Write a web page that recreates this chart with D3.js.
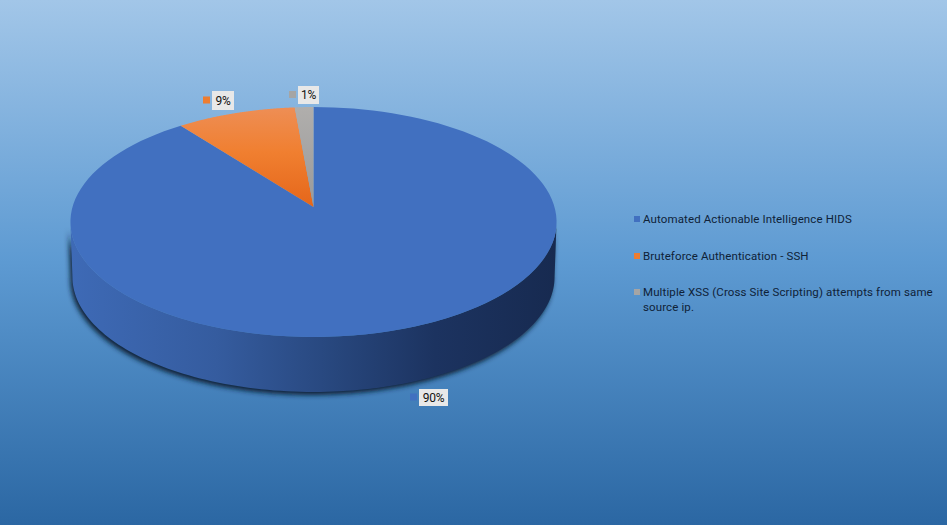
<!DOCTYPE html>
<html>
<head>
<meta charset="utf-8">
<script src="https://cdn.jsdelivr.net/npm/d3@7"></script>
<style>
  html, body { margin: 0; padding: 0; background: #2a69a5; }
  svg { display: block; }
  text { font-family: "Roboto", sans-serif; }
</style>
</head>
<body>
<div id="chart"></div>
<script>
// values, labels are these rounded
const categories = [
  'Automated Actionable Intelligence HIDS',
  'Bruteforce Authentication - SSH',
  'Multiple XSS (Cross Site Scripting) attempts from same source ip.'
];
const values = [89.6, 9.0, 1.4];
const colors = ['#4170c0', '#ed7d31', '#a5a5a5'];

const W = 947, H = 525;

/* ── Pie geometry: tilted disc seen in perspective ──────────────────── */
const apex   = { x: 313.5, y: 207 };
const radius = 241;
const tiltY  = 113;
const persp  = 0.1304;
const depth  = 55;

// theta is clockwise from 12 o'clock, same as d3.pie
function project(theta, r = radius, dy = 0) {
  const u = Math.sin(theta), v = Math.cos(theta);
  const w = 1 + persp * v;
  return [apex.x + r * u / w, apex.y + dy - tiltY * v / w];
}

const line = d3.line();
const sweep = (a0, a1, r, dy) =>
  d3.range(0, 121).map(i => project(a0 + (a1 - a0) * i / 120, r, dy));

const svg = d3.select('#chart').append('svg')
  .attr('width', W).attr('height', H)
  .attr('viewBox', `0 0 ${W} ${H}`);

/* ── Gradients ──────────────────────────────────────────────────────── */
const defs = svg.append('defs');

function vGradient(id, stops) {
  const g = defs.append('linearGradient').attr('id', id)
    .attr('x1', 0).attr('y1', 0).attr('x2', 0).attr('y2', 1);
  stops.forEach(s => g.append('stop').attr('offset', s[0]).attr('stop-color', s[1]));
}
vGradient('bg', [[0, '#a2c6e8'], [0.5, '#5d9ad2'], [1, '#2b67a3']]);
vGradient('slice-0', [[0, colors[0]], [1, colors[0]]]);
vGradient('slice-1', [[0, '#ee8e55'], [0.45, '#f07f30'], [1, '#e5661a']]);
vGradient('slice-2', [[0, '#b0aeac'], [1, '#9a9a9a']]);

const wall = defs.append('linearGradient').attr('id', 'wall')
  .attr('x1', 0).attr('y1', 0).attr('x2', 1).attr('y2', 0);
[[0, '#3e6ab6'], [0.3, '#355c9f'], [0.55, '#27467c'], [0.75, '#1c3360'], [1, '#172a50']]
  .forEach(s => wall.append('stop').attr('offset', s[0]).attr('stop-color', s[1]));

defs.append('filter').attr('id', 'blur')
  .attr('x', '-10%').attr('y', '-10%').attr('width', '120%').attr('height', '120%')
  .append('feGaussianBlur').attr('stdDeviation', 2.5);

svg.append('rect').attr('width', W).attr('height', H).attr('fill', 'url(#bg)');

/* ── Side wall and its shadow ───────────────────────────────────────── */
const edge = Math.acos(-0.131);
const wallPts = sweep(edge, 2 * Math.PI - edge, radius, 0)
  .concat(sweep(2 * Math.PI - edge, edge, radius - 2, depth));

svg.append('path')
  .attr('d', line(wallPts) + 'Z')
  .attr('transform', 'translate(-2,3)')
  .attr('fill', '#0e2238')
  .attr('filter', 'url(#blur)');

svg.append('path')
  .attr('d', line(wallPts) + 'Z')
  .attr('fill', 'url(#wall)');

/* ── Top face ───────────────────────────────────────────────────────── */
const arcs = d3.pie().sort(null)(values);

svg.append('g').selectAll('path')
  .data(arcs)
  .join('path')
  .attr('d', d => line([[apex.x, apex.y]].concat(sweep(d.startAngle, d.endAngle))) + 'Z')
  .attr('fill', (d, i) => `url(#slice-${i})`);

/* ── Data labels ────────────────────────────────────────────────────── */
const labelBoxes = [
  { x: 419, y: 389, w: 29, h: 17 },
  { x: 212, y: 91,  w: 22, h: 19 },
  { x: 298, y: 86,  w: 21, h: 18 }
];

const labels = svg.append('g').selectAll('g')
  .data(arcs)
  .join('g')
  .attr('transform', (d, i) => `translate(${labelBoxes[i].x},${labelBoxes[i].y})`);

labels.append('rect')
  .attr('width', (d, i) => labelBoxes[i].w)
  .attr('height', (d, i) => labelBoxes[i].h)
  .attr('fill', '#e8e8e8');

labels.append('rect')
  .attr('x', -9)
  .attr('y', (d, i) => labelBoxes[i].h / 2 - 4)
  .attr('width', 7).attr('height', 7)
  .attr('fill', (d, i) => colors[i]);

labels.append('text')
  .attr('x', (d, i) => labelBoxes[i].w / 2)
  .attr('y', (d, i) => labelBoxes[i].h / 2 + 4)
  .attr('text-anchor', 'middle')
  .attr('font-size', 12)
  .attr('letter-spacing', -0.3)
  .attr('fill', '#111')
  .text(d => Math.round(d.value) + '%');

/* ── Legend ─────────────────────────────────────────────────────────── */
const legendX = 634;
const legendRows = [
  { y: 219, lines: [categories[0]] },
  { y: 256, lines: [categories[1]] },
  { y: 292, lines: ['Multiple XSS (Cross Site Scripting) attempts from same', 'source ip.'] }
];

const legend = svg.append('g').selectAll('g')
  .data(legendRows)
  .join('g')
  .attr('transform', d => `translate(${legendX},${d.y})`);

legend.append('rect')
  .attr('x', 0).attr('y', -3)
  .attr('width', 6).attr('height', 6)
  .attr('fill', (d, i) => colors[i]);

legend.append('text')
  .attr('x', 9).attr('y', 4)
  .attr('font-size', 11.5)
  .attr('letter-spacing', 0.12)
  .attr('fill', '#0f2238')
  .selectAll('tspan')
  .data(d => d.lines)
  .join('tspan')
  .attr('x', 9)
  .attr('dy', (d, i) => i ? 15 : 0)
  .text(d => d);
</script>
</body>
</html>
